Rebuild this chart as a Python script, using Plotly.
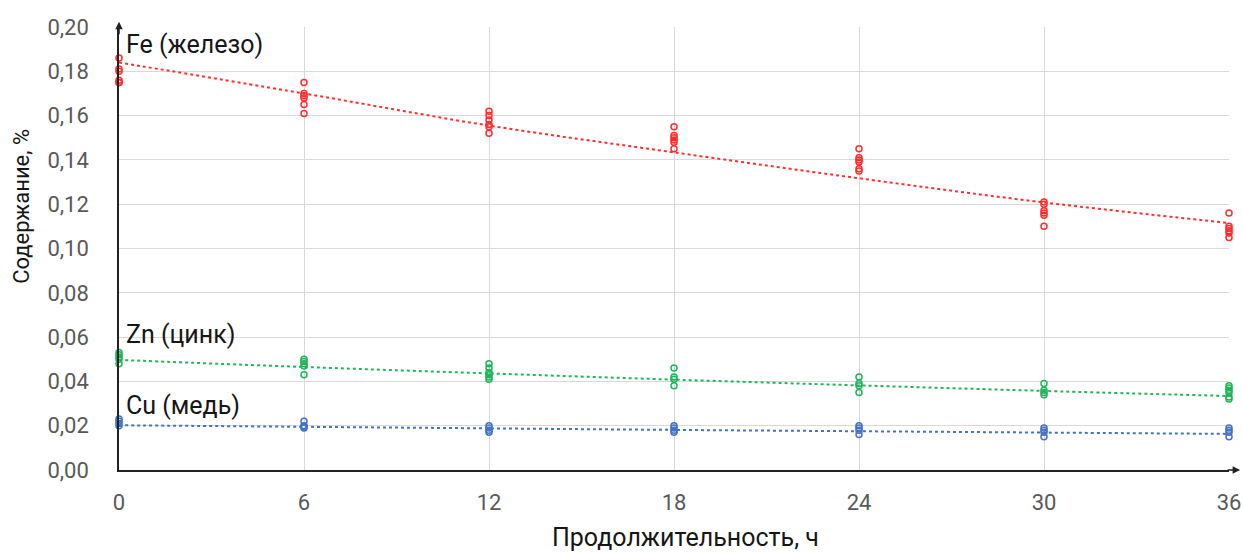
import plotly.graph_objects as go

hours = [0, 6, 12, 18, 24, 30, 36]

fe_values = [
    [0.186, 0.181, 0.180, 0.176, 0.175, 0.175],
    [0.175, 0.170, 0.169, 0.168, 0.165, 0.161],
    [0.162, 0.160, 0.158, 0.156, 0.155, 0.152],
    [0.155, 0.151, 0.150, 0.149, 0.148, 0.145],
    [0.145, 0.141, 0.140, 0.139, 0.136, 0.135],
    [0.121, 0.120, 0.117, 0.116, 0.115, 0.110],
    [0.116, 0.110, 0.109, 0.108, 0.107, 0.105],
]
zn_values = [
    [0.053, 0.052, 0.051, 0.050, 0.048],
    [0.050, 0.049, 0.048, 0.047, 0.043],
    [0.048, 0.046, 0.044, 0.043, 0.042, 0.041],
    [0.046, 0.042, 0.041, 0.038],
    [0.042, 0.039, 0.038, 0.035],
    [0.039, 0.036, 0.035, 0.034],
    [0.038, 0.037, 0.036, 0.035, 0.033, 0.032],
]
cu_values = [
    [0.023, 0.022, 0.021, 0.020],
    [0.022, 0.020, 0.0195, 0.019],
    [0.020, 0.019, 0.018, 0.017],
    [0.020, 0.019, 0.018, 0.017],
    [0.020, 0.019, 0.018, 0.016],
    [0.019, 0.018, 0.017, 0.015],
    [0.019, 0.018, 0.017, 0.015],
]

# trendline (exponential-looking) values read at each hour
fe_trend = [0.184, 0.170, 0.1555, 0.1434, 0.1317, 0.1208, 0.1115]
zn_trend = [0.0497, 0.0465, 0.0436, 0.0408, 0.0382, 0.0357, 0.0334]
cu_trend = [0.0202, 0.0195, 0.0188, 0.0181, 0.0175, 0.0169, 0.0163]

series_names = ["Fe (железо)", "Zn (цинк)", "Cu (медь)"]
series_colors = ["#FF2D2D", "#1FB55A", "#4472C4"]
label_values = [0.192, 0.061, 0.029]

x_ticks = [0, 6, 12, 18, 24, 30, 36]
y_ticks = [0.00, 0.02, 0.04, 0.06, 0.08, 0.10, 0.12, 0.14, 0.16, 0.18, 0.20]
y_tick_text = [f"{v:.2f}".replace(".", ",") for v in y_ticks]

x_title = "Продолжительность, ч"
y_title = "Содержание, %"

FONT = "Roboto, sans-serif"
TEXT = "#161616"

fig = go.Figure()

for name, color, vals, trend in zip(series_names, series_colors,
                                     [fe_values, zn_values, cu_values],
                                     [fe_trend, zn_trend, cu_trend]):
    xs, ys = [], []
    for h, group in zip(hours, vals):
        for v in group:
            xs.append(h)
            ys.append(v)
    fig.add_trace(go.Scatter(
        x=hours, y=trend, mode="lines",
        line=dict(color=color, width=2, dash="dot", shape="spline"),
        showlegend=False, hoverinfo="skip", cliponaxis=False))
    fig.add_trace(go.Scatter(
        x=xs, y=ys, mode="markers", name=name,
        marker=dict(symbol="circle-open", size=6, color=color,
                    line=dict(width=1.5, color=color)),
        showlegend=False, cliponaxis=False))

for name, yv in zip(series_names, label_values):
    fig.add_annotation(x=0, y=yv, xref="x", yref="y", text=name,
                       showarrow=False, xanchor="left", yanchor="middle",
                       xshift=5,
                       font=dict(family=FONT, size=25, color=TEXT))

# axis titles
fig.add_annotation(xref="paper", yref="paper", x=0.51, y=0, yshift=-67,
                   text=x_title, showarrow=False, xanchor="center", yanchor="middle",
                   font=dict(family=FONT, size=25, color=TEXT))
fig.add_annotation(xref="paper", yref="paper", x=0, xshift=-97, y=0.594,
                   text=y_title, textangle=-90, showarrow=False,
                   xanchor="center", yanchor="middle",
                   font=dict(family=FONT, size=22, color=TEXT))

# axis arrows
fig.add_annotation(xref="paper", yref="paper", x=0, y=1.012, ax=0, ay=14,
                   showarrow=True, arrowhead=2, arrowsize=1, arrowwidth=1.5,
                   arrowcolor="#222222", text="")
fig.add_annotation(xref="paper", yref="paper", x=1.01, y=0, ax=-14, ay=0,
                   showarrow=True, arrowhead=2, arrowsize=1, arrowwidth=1.5,
                   arrowcolor="#222222", text="")

fig.update_layout(
    width=1243, height=553,
    margin=dict(l=119, r=14, t=27, b=83),
    paper_bgcolor="white", plot_bgcolor="white",
    font=dict(family=FONT, color="#595959"),
    xaxis=dict(range=[0, 36], tickvals=x_ticks, ticktext=[str(t) for t in x_ticks],
               showgrid=True, gridcolor="#D9D9D9", gridwidth=1,
               showline=True, linecolor="#222222", linewidth=1.5,
               zeroline=False, ticks="", ticklabelstandoff=12, automargin=False,
               tickfont=dict(family=FONT, size=22, color="#595959")),
    yaxis=dict(range=[0, 0.2], tickvals=y_ticks, ticktext=y_tick_text,
               showgrid=True, gridcolor="#D9D9D9", gridwidth=1,
               showline=True, linecolor="#222222", linewidth=1.5,
               zeroline=False, ticks="", ticklabelstandoff=24, automargin=False,
               tickfont=dict(family=FONT, size=22, color="#595959")),
)

fig.write_html("out.html", config={"displayModeBar": False},
               post_script="document.body.style.margin='0';document.body.style.overflow='hidden';")
